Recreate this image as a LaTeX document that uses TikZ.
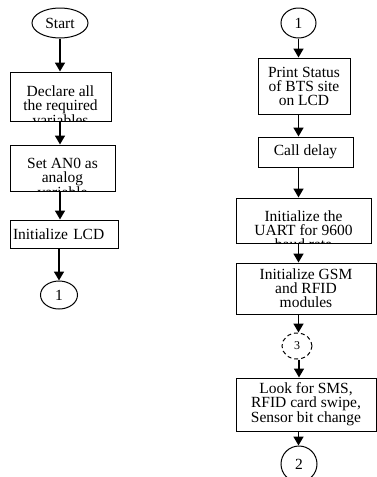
\documentclass[tikz,border=0pt]{standalone}
\usepackage{fontspec}
\setmainfont{Liberation Serif}
\usetikzlibrary{positioning,arrows.meta,shapes.geometric}

\newcommand{\flowfont}{\fontsize{15.5}{14}\selectfont}

\tikzset{
  box/.style={draw, rectangle, line width=1pt, inner sep=0pt, align=center},
  term/.style={draw, ellipse, line width=1pt, inner sep=0pt},
  flow/.style={line width=1.7pt, -{Triangle[width=10pt,length=9pt]}},
  cut/.style={path picture={\node[below, align=center, inner sep=0pt]
      at ([yshift=-9pt]path picture bounding box.north) {#1};}}
}

\begin{document}
\begin{tikzpicture}[x=1pt, y=-1pt, font=\flowfont]
    \useasboundingbox (0,0) rectangle (376,477);

    % left column
    \node[term, minimum width=56, minimum height=30] (start) at (60,23) {Start};
    \node[box, minimum width=101, minimum height=49,
          cut={Declare all\\the required\\variables}] (declare) at (60.5,96.5) {};
    \node[box, minimum width=105, minimum height=46,
          cut={Set AN0 as\\analog\\variable}] (analog) at (62.5,168) {};
    \node[box, minimum width=108, minimum height=28, text width=102,
          align=left] (lcd) at (64,234) {Initialize LCD};
    \node[term, minimum width=37, minimum height=28] (onea) at (59,295) {1};

    \draw[flow] (start.south) -- (start.south |- declare.north);
    \draw[flow] (start.south |- declare.south) -- (start.south |- analog.north);
    \draw[flow] (start.south |- analog.south) -- (start.south |- lcd.north);
    \draw[flow] (onea.north |- lcd.south) -- (onea.north);

    % right column
    \node[term, minimum width=35, minimum height=30] (oneb) at (298.5,23) {1};
    \node[box, minimum width=92, minimum height=56] (bts) at (304,86)
         {Print Status\\of BTS site\\on LCD};
    \node[box, minimum width=95, minimum height=30] (delay) at (305.5,152) {Call delay};
    \node[box, minimum width=135, minimum height=45,
          cut={Initialize the\\UART for 9600\\baud rate}] (uart) at (303.5,220.5) {};
    \node[box, minimum width=140, minimum height=51] (gsm) at (306,288.5)
         {Initialize GSM\\and RFID\\modules};
    \node[term, dash pattern=on 4pt off 3pt, minimum width=30,
          minimum height=26] (three) at (297,346) {\fontsize{12}{12}\selectfont 3};
    \node[box, minimum width=140, minimum height=53] (look) at (306,404.5)
         {Look for SMS,\\RFID card swipe,\\Sensor bit change};
    \node[term, minimum width=36, minimum height=36] (two) at (299,464) {2};

    \draw[flow] (oneb.south) -- (oneb.south |- bts.north);
    \draw[flow] (bts.south -| oneb.south) -- (delay.north -| oneb.south);
    \draw[flow] (delay.south -| oneb.south) -- (uart.north -| oneb.south);
    \draw[flow] (uart.south -| oneb.south) -- (gsm.north -| oneb.south);
    \draw[flow] (gsm.south -| oneb.south) -- (three.north -| oneb.south);
    \draw[flow] (three.south -| two.north) -- (look.north -| two.north);
    \draw[flow] (look.south -| oneb.south) -- (two.north -| oneb.south);
\end{tikzpicture}
\end{document}
